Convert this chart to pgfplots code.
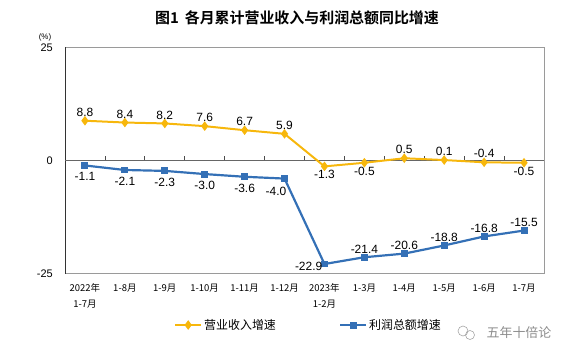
\documentclass[border=0pt]{standalone}
\usepackage{fontspec}
\setmainfont{Liberation Sans}
\newfontfamily\cjk{Noto Sans CJK SC}
\newfontfamily\cjkb{Noto Sans CJK SC Bold}
\usepackage{pgfplots}
\usepackage{pgfplotstable}
\pgfplotsset{compat=1.18}
\definecolor{ylw}{HTML}{F7B70C}
\definecolor{blu}{HTML}{3470B6}
\definecolor{frm}{HTML}{9A9A9A}

\pgfplotstableread{
x y
1 8.8
2 8.4
3 8.2
4 7.6
5 6.7
6 5.9
7 -1.3
8 -0.5
9 0.5
10 0.1
11 -0.4
12 -0.5
}\revenue

\pgfplotstableread{
x y
1 -1.1
2 -2.1
3 -2.3
4 -3.0
5 -3.6
6 -4.0
7 -22.9
8 -21.4
9 -20.6
10 -18.8
11 -16.8
12 -15.5
}\profit

\pgfplotsset{lbl/.style={
  forget plot, draw=none, mark=none,
  nodes near coords,
  point meta=explicit symbolic,
  every node near coord/.append style={font=\fontsize{12}{12}\selectfont, inner sep=1bp, anchor=#1, text=black},
}}

\begin{document}
\begin{tikzpicture}
\useasboundingbox (0,0) rectangle (575bp,352bp);
\begin{axis}[
  at={(65bp,78.5bp)}, anchor=south west,
  scale only axis, width=479bp, height=226bp,
  xmin=0.5, xmax=12.5, ymin=-25, ymax=25,
  xtick={1,...,12},
  xticklabels={2022年\\1-7月, 1-8月, 1-9月, 1-10月, 1-11月, 1-12月, 2023年\\1-2月, 1-3月, 1-4月, 1-5月, 1-6月, 1-7月},
  xticklabel style={align=center, font=\cjk\fontsize{9.5}{16}\selectfont, inner sep=0pt, yshift=-10bp},
  ytick={-25,0,25},
  yticklabel style={font=\fontsize{11}{11}\selectfont, inner sep=0pt, xshift=-12bp},
  /pgf/number format/assume math mode=true,
  major tick length=0pt,
  axis line style={draw=frm, line width=0.8pt},
  clip=false,
  legend columns=2,
  legend style={draw=none, fill=none, at={(axis description cs:0.2276,-0.228)}, anchor=west, inner sep=0pt,
    font=\cjk\fontsize{12}{12}\selectfont,
    /tikz/every even column/.append style={column sep=61bp}},
  legend image code/.code={\draw[#1, mark repeat=2, mark phase=2] plot coordinates {(0bp,0bp) (13bp,0bp) (26bp,0bp)};},
]
\draw[color=black!80, line width=1pt] (rel axis cs:0,0) -- (rel axis cs:0,1);
\draw[color=black!60, line width=1.5pt] (axis cs:0.5,0) -- (axis cs:12.5,0);
\pgfplotsinvokeforeach{1.5,2.5,...,11.5}{ \draw[color=black!70, line width=0.8pt] (axis cs:#1,0) -- ([yshift=4bp]axis cs:#1,0); }

\addplot[color=ylw, line width=2pt, mark=diamond*, mark size=3.2pt, mark options={solid}]
  table[x=x, y=y] {\revenue};
\addlegendentry{营业收入增速}

\addplot[color=blu, line width=2.2pt, mark=square*, mark size=2.4pt, mark options={solid}]
  table[x=x, y=y] {\profit};
\addlegendentry{利润总额增速}

% revenue labels
\addplot[lbl=south, every node near coord/.append style={yshift=3bp}] coordinates {
  (1,8.8) [8.8] (2,8.4) [8.4] (3,8.2) [8.2] (4,7.6) [7.6] (5,6.7) [6.7] (6,5.9) [5.9]
  (9,0.5) [0.5] (10,0.1) [0.1] (11,-0.4) [-0.4]};
\addplot[lbl=north, every node near coord/.append style={yshift=-3bp}] coordinates {
  (7,-1.3) [-1.3] (8,-0.5) [-0.5] (12,-0.5) [-0.5]};
% profit labels
\addplot[lbl=north, every node near coord/.append style={yshift=-6bp}] coordinates {
  (1,-1.1) [-1.1] (2,-2.1) [-2.1] (3,-2.3) [-2.3] (4,-3.0) [-3.0] (5,-3.6) [-3.6]};
\addplot[lbl=north east, every node near coord/.append style={xshift=3bp, yshift=-7bp}] coordinates {
  (6,-4.0) [-4.0]};
\addplot[lbl=north east, every node near coord/.append style={xshift=-1bp, yshift=3bp}] coordinates {
  (7,-22.9) [-22.9]};
\addplot[lbl=south, every node near coord/.append style={yshift=3bp}] coordinates {
  (8,-21.4) [-21.4] (9,-20.6) [-20.6] (10,-18.8) [-18.8] (11,-16.8) [-16.8] (12,-15.5) [-15.5]};
\end{axis}
\node[font=\cjkb\fontsize{15}{15}\selectfont] at (297bp,334bp) {图1\hspace{0.4em}各月累计营业收入与利润总额同比增速};
\node[font=\fontsize{8}{8}\selectfont, inner sep=0pt] at (45bp,315bp) {(\%)};
\node[font=\cjk\fontsize{13}{13}\selectfont, text=black!45, inner sep=0pt] at (519bp,19bp) {五年十倍论};
\draw[black!35, line width=0.6pt] (463bp,21bp) circle (5bp);
\draw[black!35, line width=0.6pt] (470bp,17bp) circle (4.5bp);
\end{tikzpicture}
\end{document}
